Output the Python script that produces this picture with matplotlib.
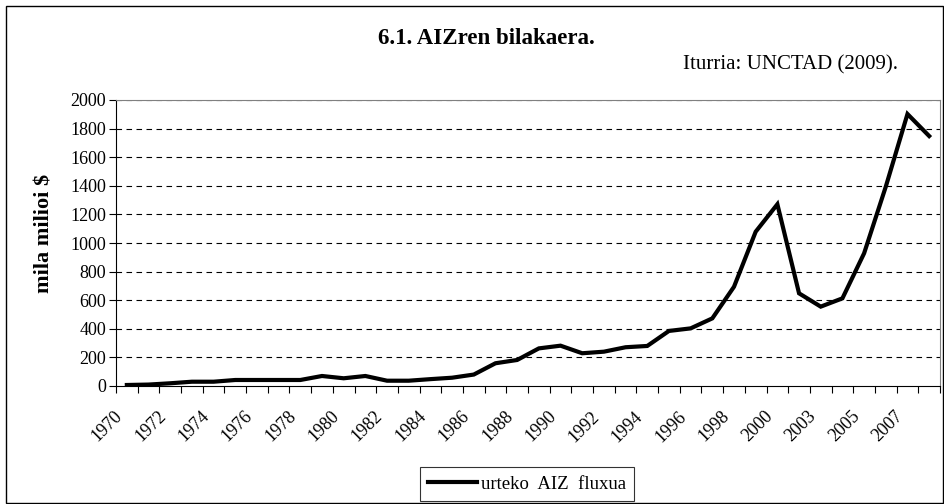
import matplotlib.pyplot as plt
import matplotlib.transforms as mtransforms
import numpy as np
from matplotlib.patches import Rectangle

plt.rcParams['font.family'] = ['Liberation Serif', 'DejaVu Serif']

# urteak (2001 ez dago datuetan)
urteak = [str(u) for u in range(1970, 2001)] + [str(u) for u in range(2002, 2009)]
# AIZ fluxua, mila milioi $
fluxua = [7, 10, 19, 30, 30, 42, 42, 42, 42, 70,
          54, 70, 37, 37, 48, 58, 80, 159, 182, 263,
          282, 229, 240, 271, 280, 385, 403, 473, 694, 1079,
          1271, 648, 555, 613, 928, 1394, 1902, 1748]
y_tikak = list(range(0, 2001, 200))

fig = plt.figure(figsize=(9.45, 5.04), dpi=100)
ax = fig.add_axes([116/945, 1-386/504, (940-116)/945, (386-100)/504])

x = np.arange(len(urteak))
ax.plot(x, fluxua, color='black', lw=3, solid_joinstyle='miter', label='urteko  AIZ  fluxua', zorder=3)

ax.set_xlim(-0.5, len(urteak) - 0.5)
ax.set_ylim(0, 2000)
ax.set_yticks(y_tikak)
ax.set_yticklabels([str(v) for v in y_tikak], fontsize=13)
for v in y_tikak[1:]:
    ax.axhline(v, color='black', lw=0.8, ls=(0, (5, 4)), zorder=1)

# etiketak bi urtetik behin, tikak kategorien artean
ax.set_xticks(x[::2])
ax.set_xticklabels(urteak[::2], rotation=45, ha='right', va='center',
                   rotation_mode='anchor', fontsize=13)
ax.tick_params(axis='x', which='major', length=0, pad=20)
ax.set_xticks(np.arange(-0.5, len(urteak)), minor=True)
ax.tick_params(axis='x', which='minor', length=5, width=0.8, direction='out')
ax.tick_params(axis='y', length=5, width=0.8, direction='out', pad=2)
mugitu = mtransforms.ScaledTranslation(-7/100, 0, fig.dpi_scale_trans)
for lab in ax.get_xticklabels():
    lab.set_transform(lab.get_transform() + mugitu)

ax.spines['top'].set_color('#808080')
ax.spines['right'].set_color('#808080')
ax.spines['left'].set_linewidth(0.8)
ax.spines['bottom'].set_linewidth(0.8)

ax.set_ylabel('mila milioi $', fontsize=16, fontweight='bold', ha='center', va='center')
ax.yaxis.set_label_coords((45/1 - 116)/824, (386-233)/286)

fig.text(486/945, 1-38/504, '6.1. AIZren bilakaera.', ha='center', va='center',
         fontsize=16.5, fontweight='bold')
fig.text(898/945, 1-65/504, 'Iturria: UNCTAD (2009).', ha='right', va='center', fontsize=15)

leg = ax.legend(loc='center', bbox_to_anchor=(527/945, 1-484/504), bbox_transform=fig.transFigure,
                frameon=True, fancybox=False, fontsize=13.5, handlelength=2.6,
                handletextpad=0.2, borderpad=0.45, borderaxespad=0)
leg.get_frame().set_edgecolor('black')
leg.get_frame().set_linewidth(0.8)

fig.patches.append(Rectangle((6/945, 1/504), 937/945, 497/504, transform=fig.transFigure,
                             fill=False, edgecolor='black', lw=1))

fig.savefig('out.png', dpi=100)
